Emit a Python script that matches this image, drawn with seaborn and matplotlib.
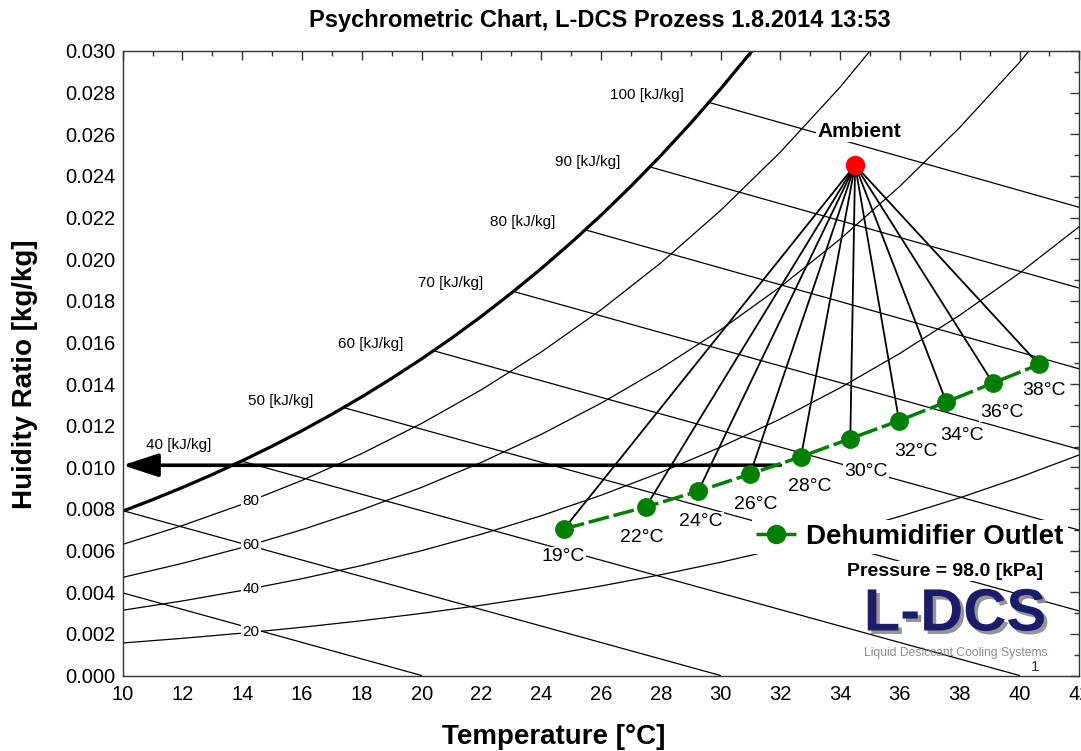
import matplotlib
matplotlib.use("Agg")
import matplotlib.pyplot as plt
import matplotlib.patheffects as pe
from matplotlib.lines import Line2D
from matplotlib.ticker import MultipleLocator, FormatStrFormatter
import seaborn as sns

# ---------------- data ----------------
title = "Psychrometric Chart, L-DCS Prozess 1.8.2014 13:53"
x_label = "Temperature [°C]"
y_label = "Huidity Ratio [kg/kg]"
legend_label = "Dehumidifier Outlet"
pressure_text = "Pressure = 98.0 [kPa]"

desiccant_labels = ["19°C", "22°C", "24°C", "26°C", "28°C", "30°C", "32°C", "34°C", "36°C", "38°C"]
outlet_T = [24.76, 27.50, 29.25, 30.99, 32.69, 34.34, 35.97, 37.55, 39.11, 40.65]
outlet_W = [0.00704, 0.00810, 0.00885, 0.00968, 0.01051, 0.01138, 0.01224, 0.01314, 0.01405, 0.01494]

ambient_T = 34.50
ambient_W = 0.02452

return_T = [32.0, 10.0]
return_W = [0.0101, 0.0101]

# saturation curve (100 % RH)
sat_T = list(range(10, 33))
sat_W = [0.007894, 0.008447, 0.009033, 0.009656, 0.010317, 0.011018, 0.011762, 0.012551,
         0.013387, 0.014273, 0.015211, 0.016204, 0.017255, 0.018369, 0.019546, 0.020792,
         0.022109, 0.023502, 0.024975, 0.026532, 0.028177, 0.029914, 0.031751]

# relative-humidity curves
rh_T = [10, 12, 14, 16, 18, 20, 22, 24, 26, 28, 30, 32, 34, 36, 38, 40, 42]
rh80_W = [0.006299, 0.007205, 0.008226, 0.009374, 0.010663, 0.012109, 0.013728, 0.015539,
          0.017563, 0.019821, 0.022339, 0.025144, 0.028267, 0.031742]
rh60_W = [0.004713, 0.005388, 0.006150, 0.007004, 0.007963, 0.009038, 0.010240, 0.011582,
          0.013080, 0.014748, 0.016605, 0.018669, 0.020962, 0.023507, 0.026328, 0.029455, 0.032918]
rh40_W = [0.003134, 0.003582, 0.004086, 0.004652, 0.005286, 0.005996, 0.006789, 0.007674,
          0.008659, 0.009755, 0.010972, 0.012323, 0.013820, 0.015476, 0.017308, 0.019331, 0.021565]
rh20_W = [0.001563, 0.001786, 0.002036, 0.002317, 0.002632, 0.002984, 0.003376, 0.003813,
          0.004300, 0.004840, 0.005438, 0.006101, 0.006834, 0.007643, 0.008535, 0.009518, 0.010599]
rh_labels = ["80", "60", "40", "20"]
rh_label_T = 14.3
rh_label_W = [0.00839, 0.00627, 0.00417, 0.00208]

# enthalpy lines (start / end points)
enth_h = [20, 30, 40, 50, 60, 70, 80, 90, 100]
enth_T0 = [10.0, 10.03, 13.97, 17.39, 20.40, 23.07, 25.47, 27.64, 29.61]
enth_W0 = [0.00397, 0.00791, 0.01030, 0.01287, 0.01560, 0.01845, 0.02141, 0.02443, 0.02753]
enth_T1 = [20.0, 30.0, 40.0, 42.0, 42.0, 42.0, 42.0, 42.0, 42.0]
enth_W1 = [0.0, 0.0, 0.0, 0.00310, 0.00698, 0.01086, 0.01473, 0.01861, 0.02249]
enth_labelled = [40, 50, 60, 70, 80, 90, 100]

# ---------------- styling ----------------
sns.set_theme(style="white")
plt.rcParams["font.family"] = ["Liberation Sans", "DejaVu Sans"]
plt.rcParams["axes.edgecolor"] = "#333333"
plt.rcParams["axes.linewidth"] = 1.0
plt.rcParams["text.color"] = "black"
plt.rcParams["axes.labelcolor"] = "black"
plt.rcParams["xtick.color"] = "black"
plt.rcParams["ytick.color"] = "black"

GREEN = "#008000"
W_PX, H_PX = 1081, 751
fig = plt.figure(figsize=(W_PX / 100, H_PX / 100), dpi=100)
L, R, T, B = 122.7, 1079.3, 51.0, 675.5
ax = fig.add_axes([L / W_PX, 1 - B / H_PX, (R - L) / W_PX, (B - T) / H_PX])
ax.set_facecolor("white")

# background grid of the chart
bg = dict(color="black", lw=0.9, zorder=1)
for hT0, hW0, hT1, hW1 in zip(enth_T0, enth_W0, enth_T1, enth_W1):
    ax.plot([hT0, hT1], [hW0, hW1], **bg)
for wlist in (rh80_W, rh60_W, rh40_W, rh20_W):
    sns.lineplot(x=rh_T[:len(wlist)], y=wlist, ax=ax, sort=False, estimator=None, **bg)
sns.lineplot(x=sat_T, y=sat_W, ax=ax, sort=False, estimator=None, color="black", lw=2.3, zorder=2)

# relative humidity labels
for lab, w in zip(rh_labels, rh_label_W):
    ax.text(rh_label_T, w, lab, fontsize=11, ha="center", va="center", zorder=2.5,
            bbox=dict(facecolor="white", edgecolor="none", pad=1.0))

# enthalpy labels
enth_offsets = {40: (-30, 16), 50: (-30, 7), 60: (-30, 7), 70: (-30, 8),
                80: (-30, 8), 90: (-30, 5), 100: (-25, 7)}
for h, t0, w0 in zip(enth_h, enth_T0, enth_W0):
    if h in enth_labelled:
        ax.annotate(f"{h} [kJ/kg]", xy=(t0, w0), xytext=enth_offsets[h],
                    textcoords="offset pixels", fontsize=11, ha="right", va="center",
                    zorder=2.5, annotation_clip=False)

# tie lines from ambient to each outlet state
for t, w in zip(outlet_T, outlet_W):
    ax.plot([ambient_T, t], [ambient_W, w], color="black", lw=1.3, zorder=3)

# return arrow
ax.annotate("", xy=(return_T[1], return_W[1]), xytext=(return_T[0], return_W[0]),
            arrowprops=dict(arrowstyle="-|>,head_length=1.1,head_width=0.36",
                            color="black", lw=2.6, shrinkA=0, shrinkB=0, mutation_scale=20),
            zorder=3, annotation_clip=False)

# dehumidifier outlet series
ls = (0, (6, 1.4))
sns.lineplot(x=outlet_T, y=outlet_W, ax=ax, sort=False, estimator=None, color=GREEN,
             lw=2.5, linestyle=ls, marker="o", markersize=13, markeredgecolor=GREEN,
             markeredgewidth=0.5, zorder=4)

# ambient point
ax.plot([ambient_T], [ambient_W], "o", color="#ff0000", markersize=13, zorder=5)
ax.annotate("Ambient", xy=(ambient_T, ambient_W), xytext=(4, 34), textcoords="offset pixels",
            fontsize=15, fontweight="bold", ha="center", va="center", zorder=2.6,
            bbox=dict(facecolor="white", edgecolor="none", pad=1.0))

# desiccant temperature labels
lab_offsets = [(-1, -28), (-4, -31), (3, -30), (6, -31), (9, -30),
               (16, -33), (17, -31), (16, -34), (9, -29), (5, -26)]
for lab, t, w, off in zip(desiccant_labels, outlet_T, outlet_W, lab_offsets):
    ax.annotate(lab, xy=(t, w), xytext=off, textcoords="offset pixels", fontsize=14,
                ha="center", va="center", zorder=2.6,
                bbox=dict(facecolor="white", edgecolor="none", pad=0.8))

# axes
ax.set_xlim(10, 42)
ax.set_ylim(0, 0.030)
ax.xaxis.set_major_locator(MultipleLocator(2))
ax.xaxis.set_minor_locator(MultipleLocator(1))
ax.yaxis.set_major_locator(MultipleLocator(0.002))
ax.yaxis.set_minor_locator(MultipleLocator(0.001))
ax.yaxis.set_major_formatter(FormatStrFormatter("%.3f"))
ax.tick_params(which="both", direction="in", top=True, right=True, colors="#333333",
               labelcolor="black", width=1.0)
ax.tick_params(which="major", length=6.5, labelsize=14.5)
ax.tick_params(axis="x", which="major", pad=7)
ax.tick_params(axis="y", which="major", pad=5)
ax.tick_params(which="minor", length=3.6)
for s in ax.spines.values():
    s.set_visible(True)

ax.set_xlabel(x_label, fontsize=20, fontweight="bold", color="black")
ax.xaxis.label.set_va("center")
ax.xaxis.set_label_coords((554 - L) / (R - L), -(737 - B) / (B - T))
ax.set_ylabel(y_label, fontsize=20, fontweight="bold", color="black")
ax.yaxis.label.set_va("center")
ax.yaxis.set_label_coords((25 - L) / (R - L), (B - 374) / (B - T))

fig.text(600 / W_PX, 1 - 21 / H_PX, title, fontsize=17, fontweight="bold",
         ha="center", va="center", color="black")

# legend
handle = Line2D([], [], color=GREEN, lw=2.5, linestyle=ls, marker="o", markersize=13,
                markeredgecolor=GREEN)
leg = ax.legend([handle], [legend_label], loc="center left",
                bbox_to_anchor=((752 - L) / (R - L), (B - 537) / (B - T)),
                prop=dict(size=20, weight="bold"), handlelength=1.45, handletextpad=0.35,
                borderpad=0.15, borderaxespad=0, frameon=True, fancybox=False,
                facecolor="white", edgecolor="none", framealpha=1)
for txt in leg.get_texts():
    txt.set_color("black")
leg.set_zorder(6)

ax.text((945 - L) / (R - L), (B - 571) / (B - T), pressure_text, transform=ax.transAxes,
        fontsize=14, fontweight="bold", ha="center", va="center", zorder=6,
        bbox=dict(facecolor="white", edgecolor="none", pad=1.0))

# logo
ax.text((955 - L) / (R - L), (B - 615) / (B - T), "L-DCS", transform=ax.transAxes,
        fontsize=43, fontweight="bold", color="#1c1c6b", ha="center", va="center", zorder=6,
        path_effects=[pe.SimplePatchShadow(offset=(2.5, -2.5), shadow_rgbFace="#8a8a8a", alpha=0.9),
                      pe.Normal()])
ax.text((956 - L) / (R - L), (B - 653) / (B - T), "Liquid Desiccant Cooling Systems",
        transform=ax.transAxes, fontsize=8.7, color="#8a8a99", ha="center", va="center",
        zorder=6)
ax.text((1035 - L) / (R - L), (B - 667) / (B - T), "1", transform=ax.transAxes,
        fontsize=11, color="#333333", ha="center", va="center", zorder=6)

fig.savefig("out.png", dpi=100, facecolor="white")
